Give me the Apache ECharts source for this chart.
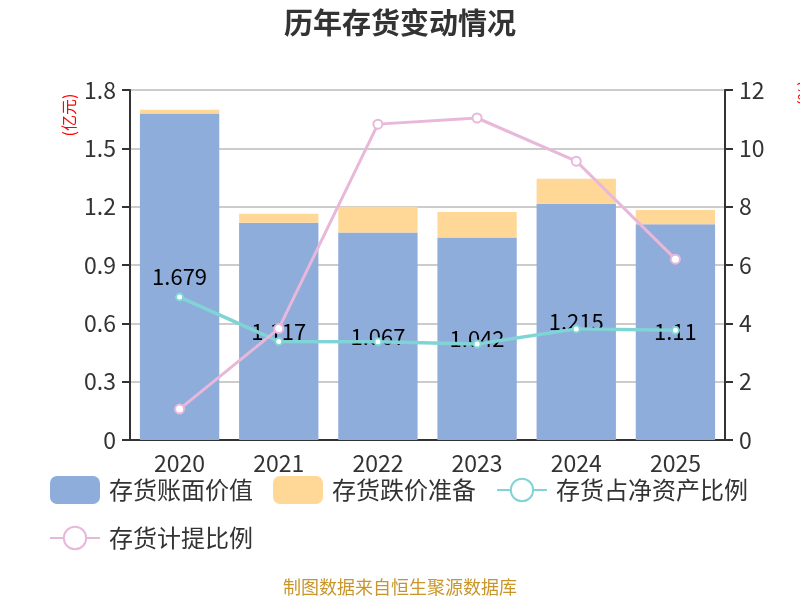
<!DOCTYPE html>
<html><head><meta charset="utf-8">
<script src="https://cdn.jsdelivr.net/npm/echarts@6/dist/echarts.min.js"></script>
<style>html,body{margin:0;padding:0;background:#fff}#c{width:800px;height:600px}</style>
</head><body><div id="c"></div>
<script>
var categories = ['2020','2021','2022','2023','2024','2025'];
var bookValue = [1.679, 1.117, 1.067, 1.042, 1.215, 1.11];
var impairment = [0.02, 0.046, 0.132, 0.131, 0.128, 0.073];
var ratioNetAsset = [4.9, 3.38, 3.37, 3.29, 3.81, 3.76];
var provisionRatio = [1.06, 3.82, 10.83, 11.04, 9.56, 6.2];
var leftTicks = [0, 0.3, 0.6, 0.9, 1.2, 1.5, 1.8];
var rightTicks = [0, 2, 4, 6, 8, 10, 12];

var FONT = '"Noto Sans CJK SC", "Noto Sans", sans-serif';
var chart = echarts.init(document.getElementById('c'));
chart.setOption({
  textStyle: {fontFamily: FONT},
  title: {text: '历年存货变动情况', left: 'center', top: 3,
    textStyle: {fontSize: 29, fontWeight: 'bold', color: '#333', fontFamily: FONT}},
  legend: {left: 44, top: 471, width: 752, itemWidth: 50, itemHeight: 28, itemGap: 20,
    textStyle: {fontSize: 24, color: '#333', fontFamily: FONT, padding: [0, 0, 0, 4]},
    data: ['存货账面价值','存货跌价准备','存货占净资产比例','存货计提比例']},
  grid: {left: 130, right: 75, top: 90, bottom: 160},
  graphic: [
    {type: 'text', x: 69, y: 115, rotation: Math.PI/2,
      style: {text: '(亿元)', fill: '#ff0000', fontSize: 16, fontFamily: FONT, textAlign: 'center', textVerticalAlign: 'middle'}},
    {type: 'text', x: 804, y: 93, rotation: Math.PI/2,
      style: {text: '(%)', fill: '#ff0000', fontSize: 16, fontFamily: FONT, textAlign: 'center', textVerticalAlign: 'middle'}},
    {type: 'text', left: 'center', top: 578,
      style: {text: '制图数据来自恒生聚源数据库', fill: '#c8962a', fontSize: 18, fontFamily: FONT}}
  ],
  xAxis: {type: 'category', data: categories,
    axisLine: {lineStyle: {color: '#333', width: 2}},
    axisTick: {length: 8, lineStyle: {color: '#333', width: 2}},
    axisLabel: {fontSize: 23, color: '#333', margin: 12, fontFamily: FONT}},
  yAxis: [
    {type: 'value', min: 0, max: 1.8, interval: 0.3,
      axisLine: {show: true, lineStyle: {color: '#333', width: 2}},
      axisTick: {show: true, length: 8, lineStyle: {color: '#333', width: 2}},
      axisLabel: {fontSize: 23, color: '#333', margin: 14, fontFamily: FONT,
        formatter: function(v){ var i = leftTicks.indexOf(Math.round(v*10)/10); return i>=0 ? String(leftTicks[i]) : ''; }},
      splitLine: {lineStyle: {color: '#ccc', width: 2}}},
    {type: 'value', min: 0, max: 12, interval: 2,
      axisLine: {show: true, lineStyle: {color: '#333', width: 2}},
      axisTick: {show: true, length: 8, lineStyle: {color: '#333', width: 2}},
      axisLabel: {fontSize: 23, color: '#333', margin: 14, fontFamily: FONT,
        formatter: function(v){ return rightTicks.indexOf(v)>=0 ? String(v) : ''; }},
      splitLine: {show: false}}
  ],
  series: [
    {name: '存货账面价值', type: 'bar', stack: 'a', data: bookValue, barCategoryGap: '20%',
      itemStyle: {color: '#8eaddb'},
      label: {show: true, position: 'inside', fontSize: 22, color: '#000', fontFamily: FONT}},
    {name: '存货跌价准备', type: 'bar', stack: 'a', data: impairment,
      itemStyle: {color: '#ffd898'}},
    {name: '存货占净资产比例', type: 'line', yAxisIndex: 1, data: ratioNetAsset,
      symbol: 'circle', symbolSize: 7,
      lineStyle: {color: '#80d4d6', width: 3.5},
      itemStyle: {color: '#fff', borderColor: '#80d4d6', borderWidth: 2}},
    {name: '存货计提比例', type: 'line', yAxisIndex: 1, data: provisionRatio,
      symbol: 'circle', symbolSize: 9,
      lineStyle: {color: '#e8b8da', width: 3},
      itemStyle: {color: '#fff', borderColor: '#e8b8da', borderWidth: 2}}
  ]
});
</script></body></html>
